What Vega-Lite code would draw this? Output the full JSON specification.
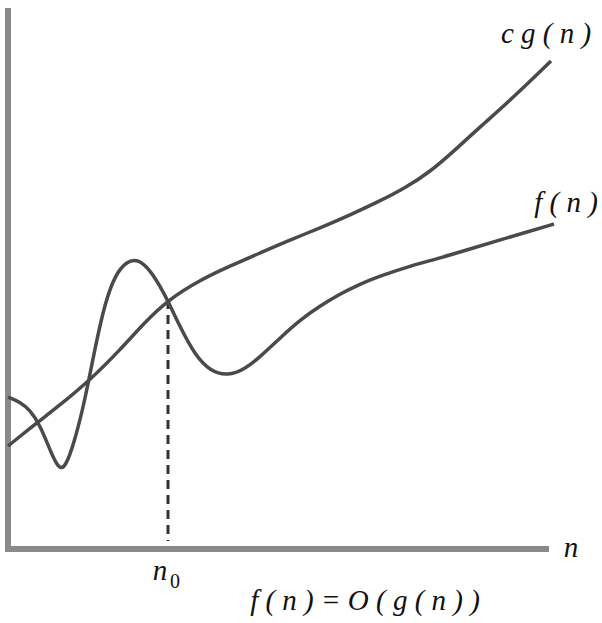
{
  "$schema": "https://vega.github.io/schema/vega-lite/v6.json",
  "width": 602,
  "height": 623,
  "padding": 0,
  "autosize": {"type": "none"},
  "background": "white",
  "config": {"view": {"stroke": null}},
  "datasets": {
    "curves": [
      {"series": "f", "n": 8, "v": 397}, {"series": "f", "n": 20, "v": 402}, {"series": "f", "n": 30, "v": 410},
      {"series": "f", "n": 40, "v": 425}, {"series": "f", "n": 50, "v": 450}, {"series": "f", "n": 58, "v": 468},
      {"series": "f", "n": 65, "v": 469}, {"series": "f", "n": 75, "v": 440}, {"series": "f", "n": 85, "v": 400},
      {"series": "f", "n": 95, "v": 348}, {"series": "f", "n": 105, "v": 303}, {"series": "f", "n": 115, "v": 275},
      {"series": "f", "n": 127, "v": 261}, {"series": "f", "n": 138, "v": 259}, {"series": "f", "n": 150, "v": 270},
      {"series": "f", "n": 160, "v": 286}, {"series": "f", "n": 168, "v": 301}, {"series": "f", "n": 180, "v": 327},
      {"series": "f", "n": 195, "v": 355}, {"series": "f", "n": 210, "v": 371}, {"series": "f", "n": 228, "v": 376},
      {"series": "f", "n": 245, "v": 369}, {"series": "f", "n": 260, "v": 357}, {"series": "f", "n": 280, "v": 338},
      {"series": "f", "n": 300, "v": 320}, {"series": "f", "n": 320, "v": 306}, {"series": "f", "n": 340, "v": 294},
      {"series": "f", "n": 360, "v": 284}, {"series": "f", "n": 380, "v": 276}, {"series": "f", "n": 410, "v": 266},
      {"series": "f", "n": 440, "v": 258}, {"series": "f", "n": 470, "v": 249}, {"series": "f", "n": 500, "v": 240},
      {"series": "f", "n": 527, "v": 232}, {"series": "f", "n": 554, "v": 224},
      {"series": "cg", "n": 8, "v": 446}, {"series": "cg", "n": 38, "v": 422}, {"series": "cg", "n": 60, "v": 405},
      {"series": "cg", "n": 90, "v": 380}, {"series": "cg", "n": 120, "v": 350}, {"series": "cg", "n": 145, "v": 322},
      {"series": "cg", "n": 168, "v": 300}, {"series": "cg", "n": 200, "v": 280}, {"series": "cg", "n": 230, "v": 266},
      {"series": "cg", "n": 260, "v": 253}, {"series": "cg", "n": 290, "v": 240}, {"series": "cg", "n": 320, "v": 228},
      {"series": "cg", "n": 350, "v": 215}, {"series": "cg", "n": 380, "v": 201}, {"series": "cg", "n": 405, "v": 188},
      {"series": "cg", "n": 430, "v": 172}, {"series": "cg", "n": 455, "v": 150}, {"series": "cg", "n": 480, "v": 127},
      {"series": "cg", "n": 515, "v": 96}, {"series": "cg", "n": 551, "v": 61}
    ],
    "axes": [
      {"x1": 8, "x2": 8, "y1": 8, "y2": 551},
      {"x1": 5, "x2": 549, "y1": 549, "y2": 549}
    ],
    "dash": [{"x1": 168, "x2": 168, "y1": 300, "y2": 541}],
    "labels": [
      {"text": "c g ( n )", "x": 546, "y": 43, "size": 29},
      {"text": "f ( n )", "x": 566, "y": 212, "size": 29},
      {"text": "n", "x": 571, "y": 557, "size": 29},
      {"text": "n", "x": 160, "y": 580, "size": 29},
      {"text": "f ( n ) = O ( g ( n ) )", "x": 365, "y": 610, "size": 29}
    ],
    "subs": [{"text": "0", "x": 175, "y": 588, "size": 20}]
  },
  "layer": [
    {
      "data": {"name": "axes"},
      "mark": {"type": "rule", "color": "#8a8a8a", "strokeWidth": 6},
      "encoding": {
        "x": {"field": "x1", "type": "quantitative", "scale": {"domain": [0, 602], "nice": false, "zero": false}, "axis": null},
        "x2": {"field": "x2"},
        "y": {"field": "y1", "type": "quantitative", "scale": {"domain": [623, 0], "nice": false, "zero": false}, "axis": null},
        "y2": {"field": "y2"}
      }
    },
    {
      "data": {"name": "dash"},
      "mark": {"type": "rule", "color": "#333333", "strokeWidth": 3, "strokeDash": [9, 6]},
      "encoding": {
        "x": {"field": "x1", "type": "quantitative"},
        "x2": {"field": "x2"},
        "y": {"field": "y1", "type": "quantitative"},
        "y2": {"field": "y2"}
      }
    },
    {
      "data": {"name": "curves"},
      "mark": {"type": "line", "interpolate": "basis", "color": "#4a4a4a", "strokeWidth": 3.5},
      "encoding": {
        "x": {"field": "n", "type": "quantitative"},
        "y": {"field": "v", "type": "quantitative"},
        "detail": {"field": "series"}
      }
    },
    {
      "data": {"name": "labels"},
      "mark": {"type": "text", "font": "Liberation Serif", "fontStyle": "italic", "align": "center", "baseline": "alphabetic", "color": "#111111"},
      "encoding": {
        "x": {"field": "x", "type": "quantitative"},
        "y": {"field": "y", "type": "quantitative"},
        "text": {"field": "text"},
        "size": {"field": "size", "type": "quantitative", "scale": null}
      }
    },
    {
      "data": {"name": "subs"},
      "mark": {"type": "text", "font": "Liberation Serif", "align": "center", "baseline": "alphabetic", "color": "#111111"},
      "encoding": {
        "x": {"field": "x", "type": "quantitative"},
        "y": {"field": "y", "type": "quantitative"},
        "text": {"field": "text"},
        "size": {"field": "size", "type": "quantitative", "scale": null}
      }
    }
  ]
}
